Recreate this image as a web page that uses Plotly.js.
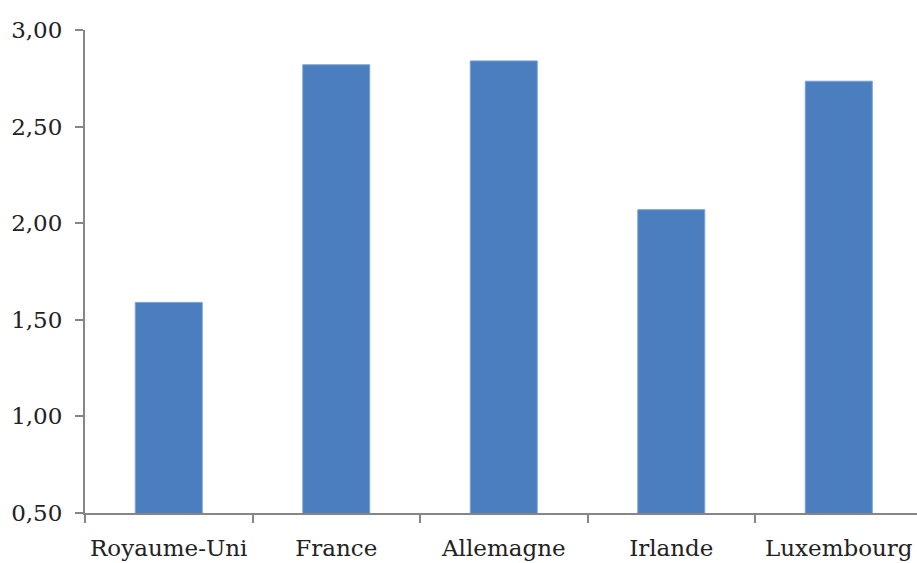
<!DOCTYPE html>
<html>
<head>
<meta charset="utf-8">
<script src="https://cdn.plot.ly/plotly-3.0.1.min.js"></script>
<style>html,body{margin:0;padding:0;background:#fff;}#chart{width:917px;height:563px;}</style>
</head>
<body>
<div id="chart"></div>
<script>
const countries = ["Royaume-Uni", "France", "Allemagne", "Irlande", "Luxembourg"];
const values = [1.59, 2.82, 2.84, 2.07, 2.735];
const yTickValues = [0.5, 1.0, 1.5, 2.0, 2.5, 3.0];

const axisColor = "#868686";
const textFont = {family: "DejaVu Serif, Liberation Serif, serif", size: 23, color: "#222222"};

Plotly.newPlot("chart", [{
  type: "bar",
  x: countries,
  y: values,
  marker: {color: "#4a7ebf", line: {color: "#7aa3d6", width: 1}},
  hoverinfo: "x+y"
}], {
  width: 917,
  height: 563,
  margin: {l: 85, r: 0, t: 30, b: 50},
  paper_bgcolor: "#ffffff",
  plot_bgcolor: "#ffffff",
  bargap: 0.6,
  separators: ", ",
  showlegend: false,
  font: textFont,
  xaxis: {
    type: "category",
    range: [-0.5, countries.length - 0.533],
    showline: true,
    linecolor: axisColor,
    linewidth: 2,
    ticks: "outside",
    tickson: "boundaries",
    ticklen: 8,
    tickwidth: 2,
    tickcolor: axisColor,
    showgrid: false,
    zeroline: false,
    tickfont: textFont,
    ticklabelstandoff: 13
  },
  yaxis: {
    range: [0.5, 3.0],
    tickvals: yTickValues,
    tickformat: ".2f",
    showline: true,
    linecolor: axisColor,
    linewidth: 2,
    ticks: "outside",
    ticklen: 8,
    tickwidth: 2,
    tickcolor: axisColor,
    showgrid: false,
    zeroline: false,
    tickfont: textFont,
    ticklabelstandoff: 8
  }
}, {displayModeBar: false, staticPlot: true});
</script>
</body>
</html>
